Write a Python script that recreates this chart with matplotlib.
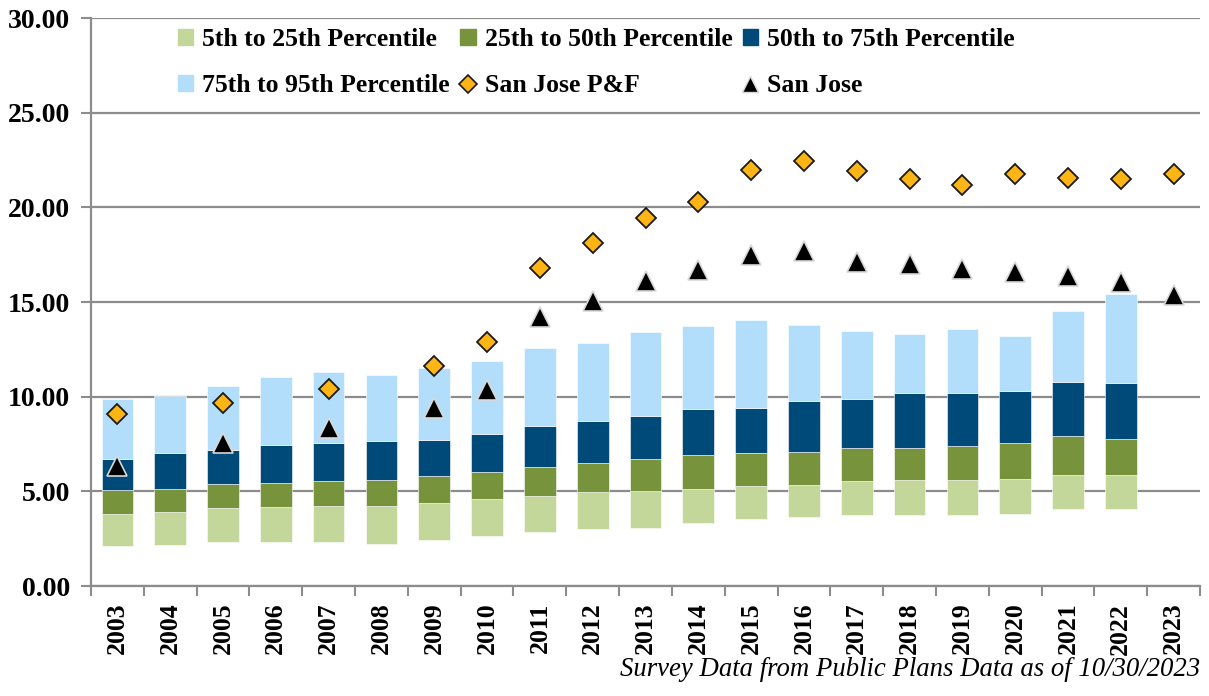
import numpy as np
import matplotlib
matplotlib.use('Agg')
import matplotlib.pyplot as plt
from matplotlib.lines import Line2D
from matplotlib.patches import Patch

# данные
years = [str(y) for y in range(2003, 2024)]
p5 = [2.11, 2.17, 2.31, 2.31, 2.31, 2.24, 2.45, 2.64, 2.85, 2.99, 3.05,
      3.33, 3.52, 3.66, 3.73, 3.73, 3.73, 3.80, 4.07, 4.07]
p25 = [3.79, 3.93, 4.10, 4.19, 4.24, 4.24, 4.38, 4.60, 4.74, 4.95, 5.00,
       5.12, 5.26, 5.33, 5.55, 5.60, 5.60, 5.67, 5.88, 5.88]
p50 = [5.05, 5.12, 5.41, 5.46, 5.53, 5.60, 5.81, 6.00, 6.29, 6.48, 6.69,
       6.90, 7.03, 7.10, 7.31, 7.31, 7.38, 7.57, 7.92, 7.78]
p75 = [6.69, 7.03, 7.17, 7.43, 7.57, 7.64, 7.70, 8.05, 8.45, 8.72, 9.00,
       9.35, 9.40, 9.75, 9.88, 10.21, 10.21, 10.30, 10.76, 10.71]
p95 = [9.88, 10.05, 10.55, 11.02, 11.30, 11.15, 11.50, 11.90, 12.57, 12.85, 13.40,
       13.73, 14.07, 13.80, 13.45, 13.33, 13.59, 13.19, 14.54, 15.43]
sj_pf = [9.07, None, 9.68, None, 10.41, None, 11.64, 12.91, 16.80, 18.12, 19.42,
         20.29, 21.98, 22.45, 21.92, 21.50, 21.17, 21.78, 21.57, 21.50, 21.78]
sj = [6.32, None, 7.55, None, 8.35, None, 9.41, 10.35, 14.23, 15.04, 16.09,
      16.67, 17.49, 17.69, 17.12, 17.03, 16.76, 16.57, 16.38, 16.06, 15.36]

band_labels = ['5th to 25th Percentile', '25th to 50th Percentile',
               '50th to 75th Percentile', '75th to 95th Percentile']
band_colors = ['#C4D79B', '#77933C', '#004A7A', '#B3DEFB']

FONT = 'Liberation Serif'
grid_c = '#8C8C8C'

fig = plt.figure(figsize=(12.09, 6.96), dpi=100, facecolor='white')
ax = fig.add_axes([91 / 1209, 110 / 696, 1109 / 1209, 568 / 696])

x = np.arange(len(years))
xb = x[:len(p5)]
edges = [p5, p25, p50, p75, p95]
for i in range(4):
    lo = np.array(edges[i])
    hi = np.array(edges[i + 1])
    ax.bar(xb, hi - lo, bottom=lo, width=0.6, color=band_colors[i],
           edgecolor='white', linewidth=0.4, zorder=2)

pf = np.array([np.nan if v is None else v for v in sj_pf])
s = np.array([np.nan if v is None else v for v in sj])
ax.plot(x, pf, ls='none', marker='D', ms=10.5, mfc='#FDB515', mec='#1a1a1a',
        mew=1.3, zorder=4)
ax.plot(x, s, ls='none', marker='^', ms=15, mfc='black', mec='#d8d8d8',
        mew=1.2, zorder=3)

ax.set_xlim(-0.5, len(years) - 0.5)
ax.set_ylim(0, 30)
ax.set_yticks(np.arange(0, 30.1, 5))
ax.set_yticklabels([f'{v:.2f}' for v in np.arange(0, 30.1, 5)],
                   fontfamily=FONT, fontweight='bold', fontsize=20)
ax.set_xticks(x)
ax.set_xticklabels(years, rotation=90, fontfamily=FONT, fontweight='bold',
                   fontsize=18.5)
ax.set_xticks(np.arange(-0.5, len(years)), minor=True)
ax.tick_params(axis='x', which='major', length=0, pad=12)
ax.tick_params(axis='x', which='minor', length=7, width=1.5, color=grid_c)
ax.tick_params(axis='y', length=7, width=1.5, color=grid_c, pad=8)

ax.yaxis.grid(True, color=grid_c, lw=1.6)
ax.set_axisbelow(True)
for sp in ['top', 'right']:
    ax.spines[sp].set_visible(False)
for sp in ['left', 'bottom']:
    ax.spines[sp].set_color(grid_c)
    ax.spines[sp].set_linewidth(1.6)

# легенда: заполняется по столбцам
h = [Patch(color=c) for c in band_colors]
h_pf = Line2D([], [], ls='none', marker='D', ms=9, mfc='#FDB515', mec='#1a1a1a', mew=1.2)
h_sj = Line2D([], [], ls='none', marker='^', ms=11, mfc='black', mec='#d8d8d8', mew=1)
handles = [h[0], h[3], h[1], h_pf, h[2], h_sj]
labels = [band_labels[0], band_labels[3], band_labels[1], 'San Jose P&F',
          band_labels[2], 'San Jose']
fig.legend(handles, labels, ncol=3, loc='upper left',
           bbox_to_anchor=(178 / 1209, 1 - 28 / 696), bbox_transform=fig.transFigure,
           frameon=False, borderpad=0, borderaxespad=0,
           handlelength=0.6, handleheight=0.6, handletextpad=0.35,
           columnspacing=0.4, labelspacing=0.9,
           prop={'family': FONT, 'weight': 'bold', 'size': 18.5})

fig.text(1200 / 1209, 1 - 670 / 696, 'Survey Data from Public Plans Data as of 10/30/2023',
         ha='right', va='center', fontfamily=FONT, fontstyle='italic', fontsize=19.3)

plt.savefig('out.png', dpi=100, facecolor='white')
plt.close(fig)
